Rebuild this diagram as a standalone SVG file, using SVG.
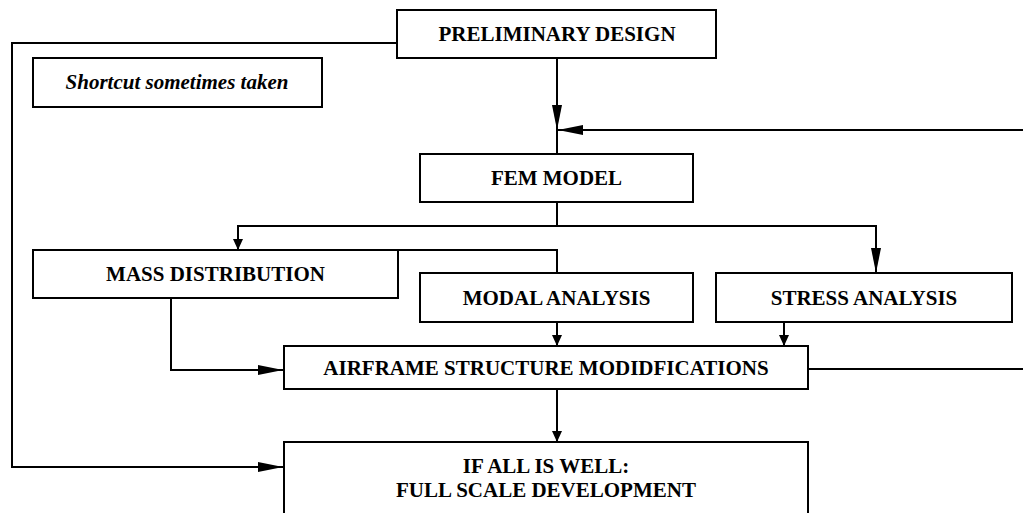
<svg xmlns="http://www.w3.org/2000/svg" width="1023" height="513" viewBox="0 0 1023 513">
<style>
  .box { fill: #ffffff; stroke: #000000; stroke-width: 2; }
  .lbl { font-family: "Liberation Serif", "Times New Roman", serif; font-weight: bold; font-size: 21px; fill: #000000; text-anchor: middle; }
  .it { font-style: italic; }
  .con { fill: none; stroke: #000000; stroke-width: 2; }
</style>
<defs>
  <marker id="big" markerUnits="userSpaceOnUse" markerWidth="26" markerHeight="10" refX="25" refY="5" orient="auto">
    <path d="M0,0 L25,5 L0,10 z" fill="#000000"/>
  </marker>
  <marker id="small" markerUnits="userSpaceOnUse" markerWidth="12" markerHeight="10" refX="11" refY="5" orient="auto">
    <path d="M0,0 L11,5 L0,10 z" fill="#000000"/>
  </marker>
</defs>
<rect width="1023" height="513" fill="#ffffff"/>
<g id="connectors">
  <path class="con" d="M557,58 V130" marker-end="url(#big)"/>
  <path class="con" d="M557,130 V154"/>
  <path class="con" d="M1024,130 H558" marker-end="url(#big)"/>
  <path class="con" d="M808,369 H1024"/>
  <path class="con" d="M397,43 H12 V467 H283" marker-end="url(#big)"/>
  <path class="con" d="M557,202 V226"/>
  <path class="con" d="M557,226 H238 V250" marker-end="url(#small)"/>
  <path class="con" d="M557,226 H876 V273" marker-end="url(#big)"/>
  <path class="con" d="M398,250 H557 V273"/>
  <path class="con" d="M557,322 V346" marker-end="url(#small)"/>
  <path class="con" d="M784,322 V346" marker-end="url(#small)"/>
  <path class="con" d="M171,298 V370 H283" marker-end="url(#big)"/>
  <path class="con" d="M557,389 V442" marker-end="url(#small)"/>
</g>
<g id="preliminary-design">
  <rect class="box" x="397" y="10" width="319" height="48"/>
  <text class="lbl" x="557" y="41">PRELIMINARY DESIGN</text>
</g>
<g id="shortcut-note">
  <rect class="box" x="33" y="58" width="289" height="49"/>
  <text class="lbl it" x="177" y="89">Shortcut sometimes taken</text>
</g>
<g id="fem-model">
  <rect class="box" x="420" y="154" width="273" height="48"/>
  <text class="lbl" x="556.5" y="185">FEM MODEL</text>
</g>
<g id="mass-distribution">
  <rect class="box" x="33" y="250" width="365" height="48"/>
  <text class="lbl" x="215.5" y="281">MASS DISTRIBUTION</text>
</g>
<g id="modal-analysis">
  <rect class="box" x="420" y="273" width="273" height="49"/>
  <text class="lbl" x="556.5" y="305">MODAL ANALYSIS</text>
</g>
<g id="stress-analysis">
  <rect class="box" x="716" y="273" width="296" height="49"/>
  <text class="lbl" x="864" y="305">STRESS ANALYSIS</text>
</g>
<g id="airframe-modifications">
  <rect class="box" x="284" y="346" width="524" height="43"/>
  <text class="lbl" x="546" y="375">AIRFRAME STRUCTURE MODIDFICATIONS</text>
</g>
<g id="full-scale-development">
  <rect class="box" x="284" y="442" width="524" height="90"/>
  <text class="lbl" x="546" y="473">IF ALL IS WELL:</text>
  <text class="lbl" x="546" y="497">FULL SCALE DEVELOPMENT</text>
</g>
</svg>
